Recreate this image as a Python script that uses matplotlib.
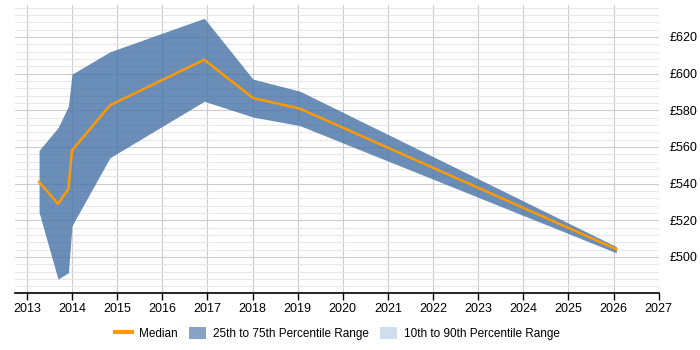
import matplotlib
matplotlib.use("Agg")
import matplotlib.pyplot as plt
from matplotlib.patches import Patch
from matplotlib.lines import Line2D
from matplotlib.ticker import MultipleLocator, FuncFormatter

plt.rcParams['font.family'] = ['Liberation Sans', 'DejaVu Sans']

years = [2013.27, 2013.69, 2013.92, 2014.0, 2014.84, 2016.93, 2018.01, 2019.05, 2026.06]
median = [540.9, 528.9, 537.1, 558.1, 582.7, 607.6, 586.7, 580.9, 504.2]
p75 = [558.1, 570.5, 582.2, 599.7, 611.9, 630.2, 597.0, 590.4, 505.6]
p25 = [524.3, 487.8, 491.4, 517.0, 554.1, 584.9, 576.3, 571.6, 502.2]
xticks = list(range(2013, 2028))
legend_labels = ["Median", "25th to 75th Percentile Range", "10th to 90th Percentile Range"]

fig = plt.figure(figsize=(7, 3.5), dpi=100)
ax = fig.add_axes([0.021, 0.163, 0.92, 0.823])
ax.set_axisbelow(True)

ax.grid(True, axis='x', color="#cccccc", linewidth=0.8)
ax.grid(True, axis='y', which='major', color="#cccccc", linewidth=0.8)
ax.grid(True, axis='y', which='minor', color="#e8e8e8", linewidth=0.8)

ax.fill_between(years, p25, p75, color="#4572a7", alpha=0.8, linewidth=0, zorder=2)
ax.plot(years, median, color="#ff9900", linewidth=1.8, zorder=3)

ax.set_xlim(2012.73, 2027)
ax.set_ylim(480.3, 637.5)
ax.set_xticks(xticks)
ax.yaxis.set_major_locator(MultipleLocator(20))
ax.yaxis.set_minor_locator(MultipleLocator(4))
ax.yaxis.set_major_formatter(FuncFormatter(lambda v, p: f"£{int(v)}"))
ax.yaxis.tick_right()
ax.tick_params(axis='y', which='both', length=0, pad=8, labelsize=9)
ax.tick_params(axis='x', length=5, width=1, labelsize=9, pad=2)

for s in ['top', 'right', 'left']:
    ax.spines[s].set_visible(False)
ax.spines['bottom'].set_color("black")
ax.spines['bottom'].set_linewidth(1.2)
ax.spines['bottom'].set_zorder(4)

handles = [Line2D([0], [0], color="#ff9900", linewidth=3),
           Patch(facecolor="#4572a7", alpha=0.65, edgecolor='none'),
           Patch(facecolor="#cfdeed", edgecolor='none')]
fig.legend(handles, legend_labels, loc='center', bbox_to_anchor=(0.482, 0.047), ncol=3,
           frameon=False, fontsize=8.5, handlelength=1.4, handleheight=1.2, columnspacing=1.0,
           handletextpad=0.6)

fig.savefig("out.png", dpi=100)
